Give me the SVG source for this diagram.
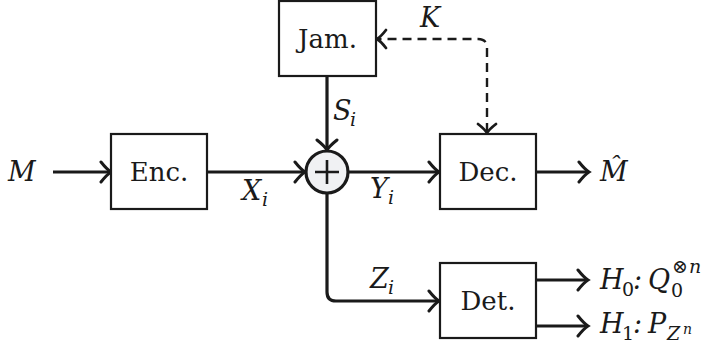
<svg xmlns="http://www.w3.org/2000/svg" width="719" height="346" viewBox="0 0 719 346">
<defs>
<style>
.box{fill:#fff;stroke:#1a1a1a;stroke-width:2.2}
text{fill:#1a1a1a;font-family:"DejaVu Serif",serif}
.lbl{font-size:26px;text-anchor:middle}
.m{font-size:27px;font-style:italic}
.s{font-size:19px;font-style:italic}
.r{font-size:19px}
.w{fill:none;stroke:#1a1a1a;stroke-width:3.2;marker-end:url(#ah)}
.d{fill:none;stroke:#1a1a1a;stroke-width:2.4;stroke-dasharray:9,6;marker-end:url(#ah2);marker-start:url(#ah2)}
</style>
<marker id="ah" markerUnits="userSpaceOnUse" markerWidth="24" markerHeight="24" viewBox="-12 -12 24 24" refX="0" refY="0" orient="auto">
<path d="M-9,-10 Q-3,-2.5 1,0 Q-3,2.5 -9,10" fill="none" stroke="#1a1a1a" stroke-width="3" stroke-linecap="round"/>
</marker>
<marker id="ah2" markerUnits="userSpaceOnUse" markerWidth="24" markerHeight="24" viewBox="-12 -12 24 24" refX="0" refY="0" orient="auto-start-reverse">
<path d="M-8,-9 Q-3,-2.5 1,0 Q-3,2.5 -8,9" fill="none" stroke="#1a1a1a" stroke-width="2.8" stroke-linecap="round"/>
</marker>
</defs>
<rect width="719" height="346" fill="#fff"/>
<g id="connectors">
<path class="w" d="M53,172 L110,172"/>
<path class="w" d="M207,172 L304,172"/>
<path class="w" d="M327,76 L327,149"/>
<path class="w" d="M349,172 L438,172"/>
<path class="w" d="M536,172 L588,172"/>
<path class="w" d="M327,194 L327,292 Q327,301 336,301 L438,301"/>
<path class="w" d="M536,280 L587,280"/>
<path class="w" d="M536,326 L587,326"/>
<path class="d" d="M487,132 L487,48 Q487,39 478,39 L378,39"/>
</g>
<g id="jam">
<rect class="box" x="279" y="1" width="97" height="75"/>
<text class="lbl" x="327.5" y="48">Jam.</text>
</g>
<g id="enc">
<rect class="box" x="111" y="134" width="96" height="75"/>
<text class="lbl" x="159" y="181">Enc.</text>
</g>
<g id="dec">
<rect class="box" x="440" y="134" width="96" height="75"/>
<text class="lbl" x="488" y="181">Dec.</text>
</g>
<g id="det">
<rect class="box" x="440" y="263" width="96" height="75"/>
<text class="lbl" x="488" y="310">Det.</text>
</g>
<g id="sum">
<circle cx="327" cy="172" r="21" fill="#f0f1f3" stroke="#1a1a1a" stroke-width="3.2"/>
<path d="M315,172 H339 M327,160 V184" stroke="#1a1a1a" stroke-width="2.6"/>
</g>
<g id="labels">
<text class="m" x="8" y="181">M</text>
<text class="m" x="600" y="181">M&#x302;</text>
<text class="m" x="420" y="27">K</text>
<text class="m" x="333" y="120">S</text><text class="s" x="350" y="126">i</text>
<text class="m" x="242" y="200">X</text><text class="s" x="262" y="206">i</text>
<text class="m" x="370" y="198">Y</text><text class="s" x="388" y="204">i</text>
<text class="m" x="370" y="288">Z</text><text class="s" x="388" y="294">i</text>
<text class="m" x="600" y="289">H</text><text class="r" x="622" y="296">0</text><text class="m" x="633" y="289">:</text>
<text class="m" x="648" y="289">Q</text><text class="r" x="671" y="297">0</text><text class="r" x="672" y="273">⊗</text><text class="s" x="689" y="273">n</text>
<text class="m" x="600" y="333">H</text><text class="r" x="622" y="340">1</text><text class="m" x="633" y="333">:</text>
<text class="m" x="648" y="333">P</text><text class="s" x="667" y="340">Z</text><text class="s" x="683" y="334" style="font-size:14px">n</text>
</g>
</svg>
